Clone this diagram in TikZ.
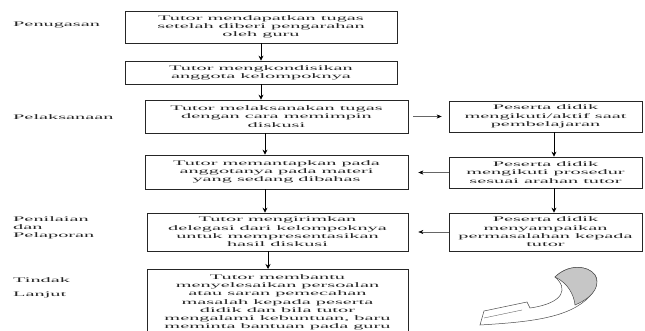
\documentclass[tikz,border=0pt]{standalone}
\usepackage{fontspec}
\setmainfont[FakeStretch=2.9]{Liberation Serif}
\usetikzlibrary{arrows.meta,calc}
\begin{document}
\begin{tikzpicture}[x=1pt,y=-1pt,
  box/.style={draw=black!85, line width=0.7pt, rectangle, inner sep=0pt, align=center, text=black!85, font=\fontsize{7pt}{8.3pt}\selectfont},
  lab/.style={anchor=west, align=left, inner sep=0pt, text=black!85, font=\fontsize{7pt}{8.3pt}\selectfont},
  arr/.style={line width=0.8pt, -{Stealth[length=5pt,width=5pt]}},
  harr/.style={line width=0.4pt, draw=black!60, -{Stealth[length=5pt,width=4pt,color=black]}}]
\clip (0,0) rectangle (645,331);
\fill[white] (0,0) rectangle (645,331);

% left labels
\node[lab] (l1) at (13,25) {Penugasan};
\node[lab] (l2) at (13,117) {Pelaksanaan};
\node[lab] (l3) at (13,228) {Penilaian\\dan\\Pelaporan};
\node[lab] (l4) at (13,288) {Tindak\\[6pt]Lanjut};

% centre boxes
\node[box, minimum width=272pt, minimum height=32pt] (b1) at (261,27) {Tutor mendapatkan tugas\\setelah diberi pengarahan\\oleh guru};
\node[box, minimum width=272pt, minimum height=23pt] (b2) at (261,72.5) {Tutor mengkondisikan\\anggota kelompoknya};
\node[box, minimum width=263pt, minimum height=33pt] (b3) at (276.5,116.5) {Tutor melaksanakan tugas\\dengan cara memimpin\\diskusi};
\node[box, minimum width=263pt, minimum height=34pt] (b4) at (276.5,172) {Tutor memantapkan pada\\anggotanya pada materi\\yang sedang dibahas};
\node[box, minimum width=261pt, minimum height=38pt] (b5) at (277.5,232) {Tutor mengirimkan\\delegasi dari kelompoknya\\untuk mempresentasikan\\hasil diskusi};
\node[box, anchor=north, minimum width=261pt, minimum height=66pt] (b6) at (277.5,269) {Tutor membantu\\menyelesaikan persoalan\\atau saran pemecahan\\masalah kepada peserta\\didik dan bila tutor\\mengalami kebuntuan, baru\\meminta bantuan pada guru};

% right boxes
\node[box, minimum width=193pt, minimum height=31pt] (r1) at (545.5,116.5) {Peserta didik\\mengikuti/aktif saat\\pembelajaran};
\node[box, minimum width=193pt, minimum height=31pt] (r2) at (545.5,172.5) {Peserta didik\\mengikuti prosedur\\sesuai arahan tutor};
\node[box, minimum width=193pt, minimum height=38pt] (r3) at (545.5,232) {Peserta didik\\menyampaikan\\permasalahan kepada\\tutor};

% arrow columns
\coordinate (c1) at (261,0);
\coordinate (c2) at (265,0);
\coordinate (c3) at (268,0);
\coordinate (c4) at (554,0);

\draw[arr] (b1.south -| c1) -- (b2.north -| c1);
\draw[arr] (b2.south -| c1) -- (b3.north -| c1);
\draw[arr] (b3.south -| c2) -- (b4.north -| c2);
\draw[arr] (b4.south -| c2) -- (b5.north -| c2);
\draw[arr] (b5.south -| c3) -- (b6.north -| c3);
\draw[arr] (r1.south -| c4) -- (r2.north -| c4);
\draw[arr] (r2.south -| c4) -- (r3.north -| c4);

\draw[harr, shorten <=5pt, shorten >=7pt] (b3.east) -- (r1.west);
\draw[harr, shorten >=10pt] (r2.west) -- (r2.west -| b4.east);
\draw[harr, shorten >=10pt] (r3.west) -- (r3.west -| b5.east);

% curved ribbon arrow
\filldraw[fill=white, draw=black!70, line width=0.5pt]
  (555,277) .. controls (568,288) and (565,303) .. (530,308)
  -- (527,302) -- (484,311) -- (480,325)
  .. controls (530,322) and (570,318) .. (590,296)
  .. controls (598,287) and (598,278) .. (595,275)
  .. controls (588,265) and (568,264) .. (555,277) -- cycle;
\filldraw[fill=gray!45, draw=black!70, line width=0.5pt]
  (555,277) .. controls (568,264) and (588,265) .. (595,275)
  .. controls (600,284) and (596,296) .. (575,305)
  .. controls (574,295) and (568,283) .. (555,277) -- cycle;
\draw[black!60, line width=0.4pt] (484,318) -- (522,310);
\end{tikzpicture}
\end{document}
